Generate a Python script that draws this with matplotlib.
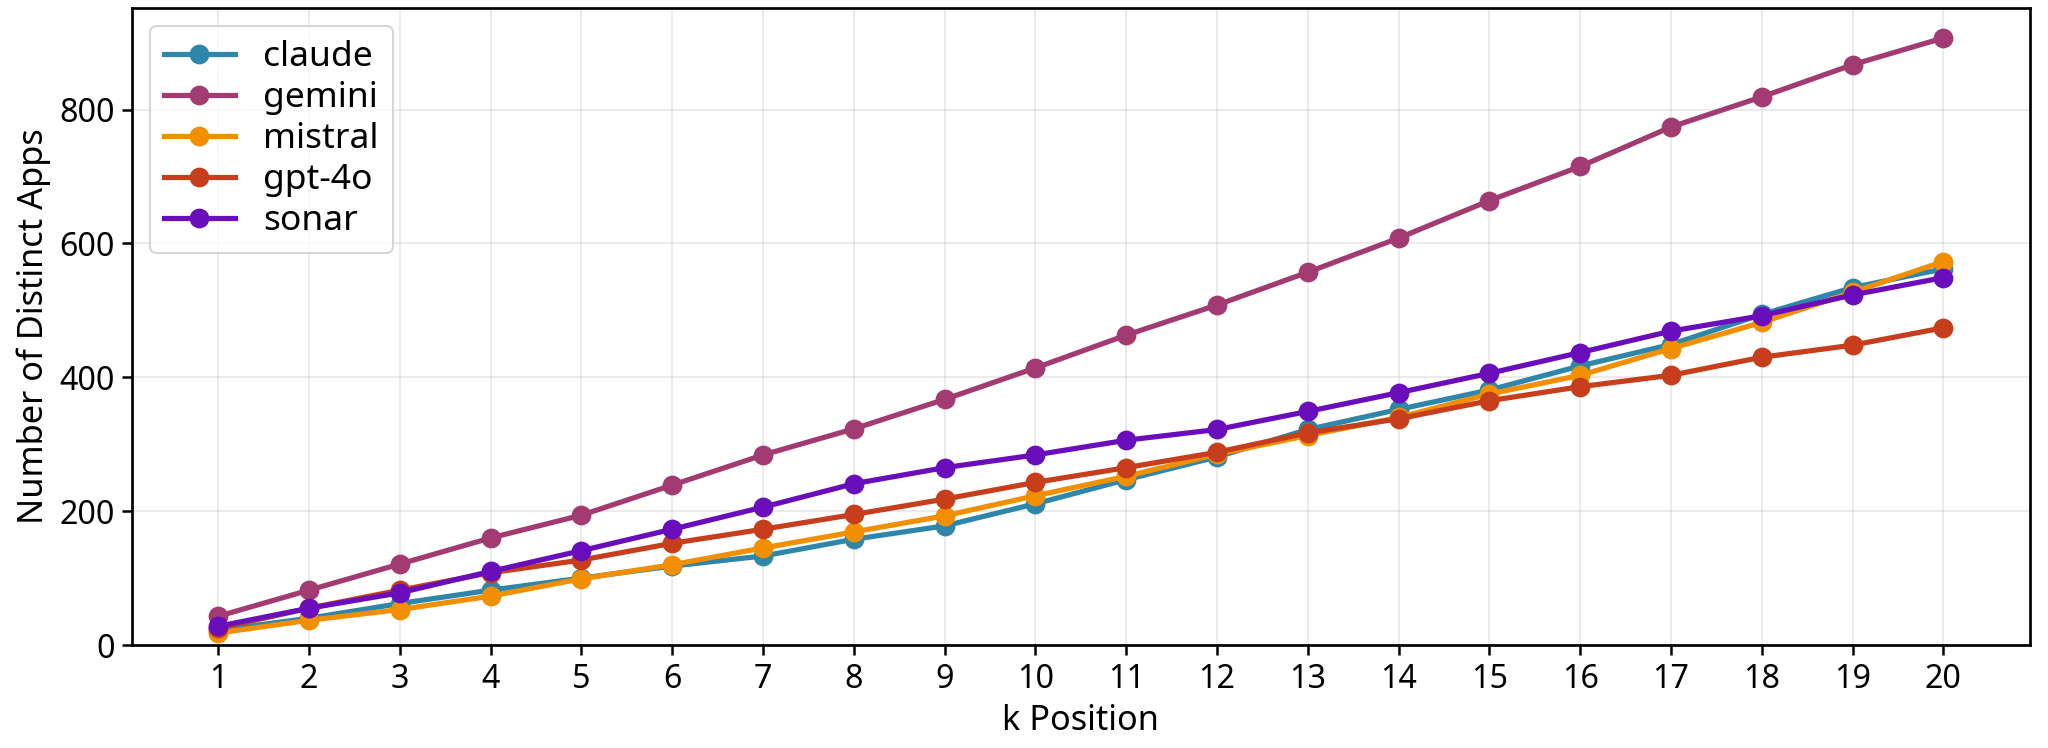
import matplotlib
matplotlib.use("Agg")
import matplotlib.pyplot as plt

plt.rcParams['font.family'] = ['Noto Sans', 'DejaVu Sans']

k_positions = list(range(1, 21))
models = ["claude", "gemini", "mistral", "gpt-4o", "sonar"]
colors = ["#2E86AB", "#A23B72", "#F18F01", "#C73E1D", "#6A0DBB"]

claude = [22, 40, 62, 82, 100, 118, 133, 158, 178, 211, 247, 281, 322, 352, 381, 417, 449, 494, 534, 562]
gemini = [43, 82, 121, 160, 194, 239, 284, 323, 367, 414, 463, 508, 557, 608, 664, 715, 774, 819, 867, 907]
mistral = [18, 37, 53, 73, 99, 120, 145, 169, 193, 223, 252, 285, 313, 340, 375, 403, 443, 482, 527, 573]
gpt4o = [25, 55, 82, 108, 127, 152, 173, 195, 218, 243, 265, 288, 317, 338, 365, 386, 403, 430, 448, 474]
sonar = [28, 55, 78, 110, 141, 173, 206, 241, 265, 284, 306, 322, 349, 377, 406, 437, 469, 492, 523, 549]

series = [claude, gemini, mistral, gpt4o, sonar]

fig = plt.figure(figsize=(2048 / 150, 748 / 150), dpi=150)
ax = fig.add_axes([0.0645, 0.1377, 0.9265, 0.8513])

for name, vals, c in zip(models, series, colors):
    ax.plot(k_positions, vals, marker='o', color=c, linewidth=2.5, markersize=8.5, label=name)

ax.set_xticks(k_positions)
ax.set_ylim(bottom=0)
ax.set_yticks([0, 200, 400, 600, 800])
ax.tick_params(labelsize=15.5, width=1.2, length=5)
for s in ax.spines.values():
    s.set_linewidth(1.3)
ax.set_xlabel("k Position", fontsize=16.5)
ax.set_ylabel("Number of Distinct Apps", fontsize=16.5)
ax.grid(True, alpha=0.3)
ax.legend(loc='upper left', fontsize=17, labelspacing=0.2)

fig.savefig("out.png", dpi=150)
